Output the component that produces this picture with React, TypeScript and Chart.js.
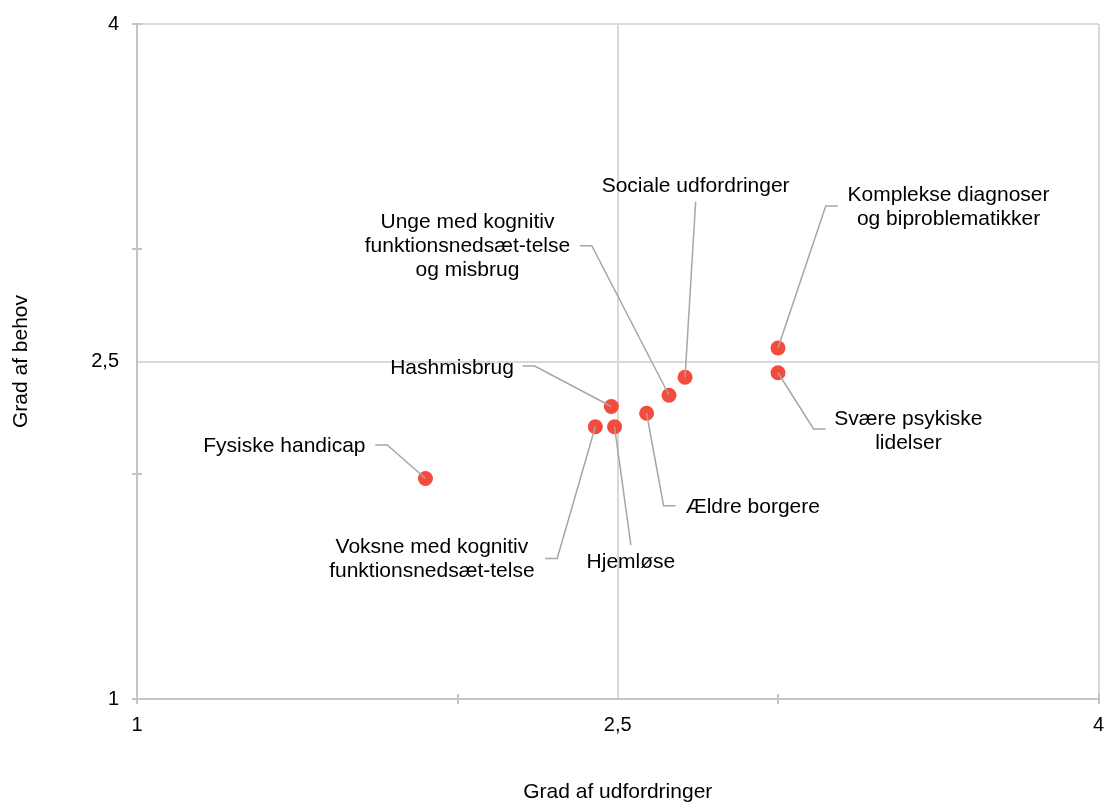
import React, { useEffect, useRef } from 'react';
import { Chart, registerables } from 'chart.js';

Chart.register(...registerables);

// ---- data ----
const categories = [
  'Fysiske handicap',
  'Voksne med kognitiv\nfunktionsnedsæt-telse',
  'Hjemløse',
  'Hashmisbrug',
  'Ældre borgere',
  'Unge med kognitiv\nfunktionsnedsæt-telse\nog misbrug',
  'Sociale udfordringer',
  'Komplekse diagnoser\nog biproblematikker',
  'Svære psykiske\nlidelser',
];
const challengeValues = [1.9, 2.43, 2.49, 2.48, 2.59, 2.66, 2.71, 3.0, 3.0];
const needValues = [1.98, 2.21, 2.21, 2.3, 2.27, 2.35, 2.43, 2.56, 2.45];

const majorTicks = [1, 2.5, 4];
const majorTickLabels = ['1', '2,5', '4'];
const minorTicks = [1, 2, 3, 4];
const xTitle = 'Grad af udfordringer';
const yTitle = 'Grad af behov';

// ---- label annotation layout (in data units) ----
const leaderElbowX = [1.781, 2.311, 2.541, 2.241, 2.643, 2.419, 2.743, 3.149, 3.111];
const leaderElbowY = [2.129, 1.625, 1.684, 2.48, 1.859, 3.015, 3.21, 3.191, 2.2];
const leaderHook = [-1, -1, 0, -1, 1, -1, 0, 1, 1];
const labelAnchorX = [1.713, 1.92, 2.541, 2.176, 2.712, 2.031, 2.743, 3.532, 3.407];
const labelAnchorY = [2.129, 1.627, 1.615, 2.476, 1.859, 3.02, 3.284, 3.191, 2.199];
const labelAlign: CanvasTextAlign[] = ['right', 'center', 'center', 'right', 'left', 'center', 'center', 'center', 'center'];

const FONT = "'Liberation Sans', Arial, sans-serif";
const AXIS_COLOR = '#c4c4c4';
const GRID_COLOR = '#d9d9d9';
const POINT_COLOR = '#f44b3c';
const LEADER_COLOR = '#a6a6a6';

const crossTicksPlugin = {
  id: 'crossTicks',
  afterDraw(chart: any) {
    const { ctx, chartArea, scales } = chart;
    ctx.save();
    ctx.strokeStyle = AXIS_COLOR;
    ctx.lineWidth = 2;
    minorTicks.forEach((v) => {
      const px = Math.round(scales.x.getPixelForValue(v));
      ctx.beginPath();
      ctx.moveTo(px, chartArea.bottom - 5);
      ctx.lineTo(px, chartArea.bottom + 5);
      ctx.stroke();
      const py = Math.round(scales.y.getPixelForValue(v));
      ctx.beginPath();
      ctx.moveTo(chartArea.left - 5, py);
      ctx.lineTo(chartArea.left + 5, py);
      ctx.stroke();
    });
    ctx.restore();
  },
};

const leaderLabelPlugin = {
  id: 'leaderLabels',
  afterDatasetsDraw(chart: any) {
    const { ctx, scales } = chart;
    const { x, y } = scales;
    ctx.save();
    ctx.strokeStyle = LEADER_COLOR;
    ctx.lineWidth = 1.5;
    categories.forEach((_, i) => {
      const px = x.getPixelForValue(challengeValues[i]);
      const py = y.getPixelForValue(needValues[i]);
      const ex = x.getPixelForValue(leaderElbowX[i]);
      const ey = y.getPixelForValue(leaderElbowY[i]);
      ctx.beginPath();
      ctx.moveTo(px, py);
      ctx.lineTo(ex, ey);
      if (leaderHook[i] !== 0) ctx.lineTo(ex + leaderHook[i] * 12, ey);
      ctx.stroke();
    });
    ctx.fillStyle = '#000000';
    ctx.font = `21px ${FONT}`;
    ctx.textBaseline = 'middle';
    const lh = 24;
    const baselineShift = 1.5;
    categories.forEach((name, i) => {
      const lines = name.split('\n');
      const lx = x.getPixelForValue(labelAnchorX[i]);
      const ly = y.getPixelForValue(labelAnchorY[i]) + baselineShift;
      ctx.textAlign = labelAlign[i];
      lines.forEach((ln, k) => {
        ctx.fillText(ln, lx, ly + (k - (lines.length - 1) / 2) * lh);
      });
    });
    ctx.restore();
  },
};

function axisTicks(scale: any) {
  scale.ticks = [...new Set([...majorTicks, ...minorTicks])]
    .sort((a, b) => a - b)
    .map((v) => ({ value: v }));
}

function tickLabel(value: any) {
  const i = majorTicks.indexOf(Number(value));
  return i >= 0 ? majorTickLabels[i] : '';
}

function gridColor(c: any) {
  const v = c.tick ? c.tick.value : null;
  return v === 2.5 || v === 4 ? GRID_COLOR : 'rgba(0,0,0,0)';
}

export default function App() {
  const ref = useRef<HTMLCanvasElement | null>(null);

  useEffect(() => {
    document.body.style.margin = '0';
    const canvas = ref.current;
    if (!canvas) return;
    const chart = new Chart(canvas, {
      type: 'scatter',
      data: {
        labels: categories,
        datasets: [
          {
            label: 'Målgrupper',
            data: challengeValues.map((v, i) => ({ x: v, y: needValues[i] })),
            backgroundColor: POINT_COLOR,
            borderWidth: 0,
            pointRadius: 7.5,
            pointHoverRadius: 7.5,
          },
        ],
      },
      options: {
        animation: false,
        responsive: false,
        devicePixelRatio: 1,
        layout: { padding: { top: 24, right: 7, left: 0, bottom: 0 } },
        plugins: {
          legend: { display: false },
          tooltip: { enabled: false },
        },
        scales: {
          x: {
            type: 'linear',
            min: 1,
            max: 4,
            afterBuildTicks: axisTicks,
            afterFit: (s: any) => {
              s.height = 103;
              s.paddingRight = 0;
              s.paddingLeft = 0;
            },
            ticks: {
              callback: tickLabel,
              autoSkip: false,
              maxRotation: 0,
              padding: 6,
              color: '#000000',
              font: { family: FONT, size: 20 },
            },
            grid: { color: gridColor, lineWidth: 2, tickColor: 'rgba(0,0,0,0)', tickLength: 8 },
            border: { color: AXIS_COLOR, width: 2 },
            title: {
              display: true,
              text: xTitle,
              color: '#000000',
              font: { family: FONT, size: 21, lineHeight: 0.9 },
              padding: { top: 0, bottom: 0 },
            },
          },
          y: {
            type: 'linear',
            min: 1,
            max: 4,
            afterBuildTicks: axisTicks,
            afterFit: (s: any) => {
              s.width = 137;
              s.paddingTop = 0;
              s.paddingBottom = 0;
            },
            ticks: {
              callback: tickLabel,
              autoSkip: false,
              padding: 10,
              color: '#000000',
              font: { family: FONT, size: 20 },
            },
            grid: { color: gridColor, lineWidth: 2, tickColor: 'rgba(0,0,0,0)', tickLength: 8 },
            border: { color: AXIS_COLOR, width: 2 },
            title: {
              display: true,
              text: yTitle,
              color: '#000000',
              font: { family: FONT, size: 21, lineHeight: 1 },
              padding: { top: 11, bottom: 0 },
            },
          },
        },
      },
      plugins: [crossTicksPlugin, leaderLabelPlugin],
    } as any);
    return () => chart.destroy();
  }, []);

  return (
    <div style={{ width: 1106, height: 802, position: 'relative' }}>
      <canvas ref={ref} width={1106} height={802} style={{ display: 'block', width: 1106, height: 802 }} />
    </div>
  );
}
